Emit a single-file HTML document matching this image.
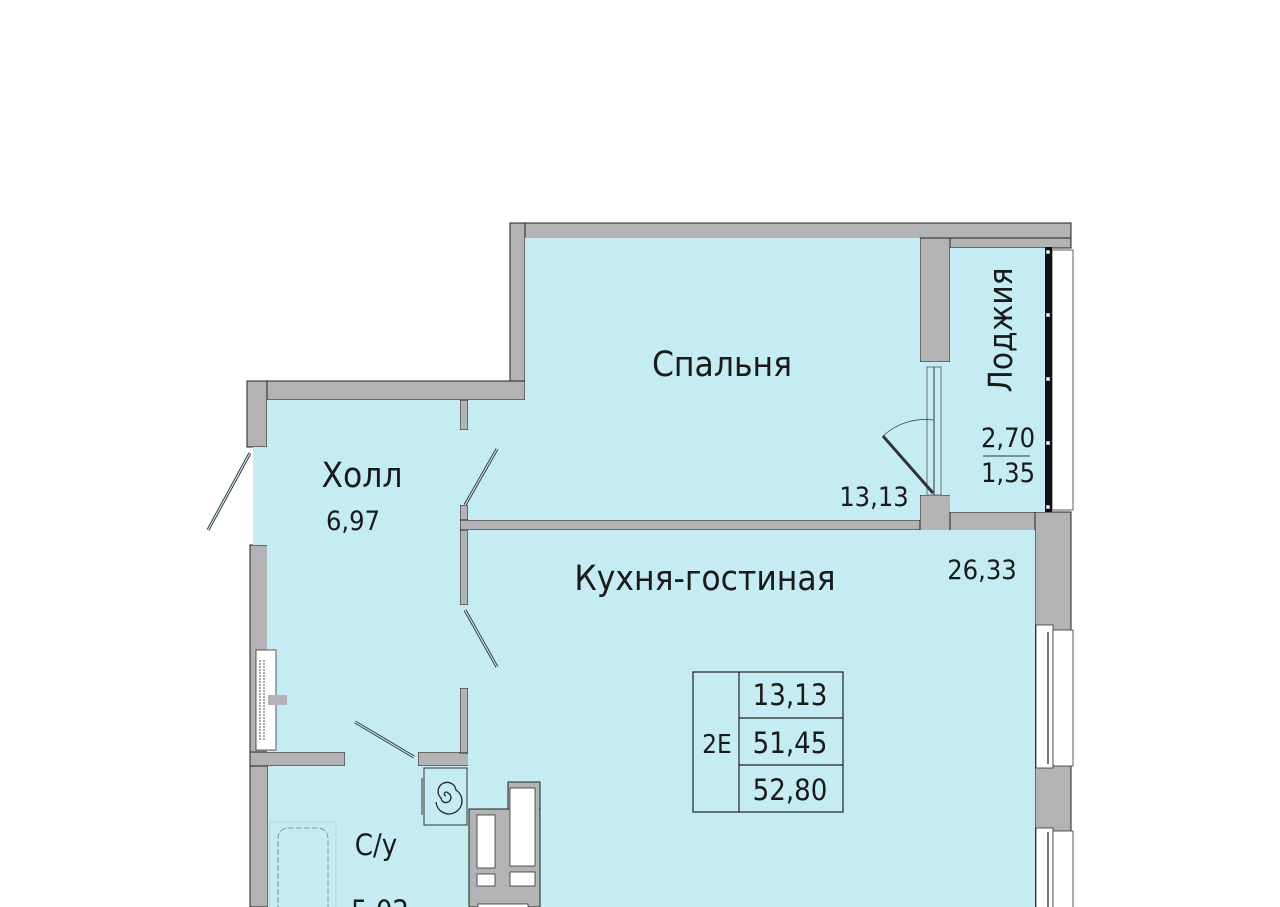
<!DOCTYPE html>
<html><head><meta charset="utf-8"><style>
html,body{margin:0;padding:0;background:#fff;width:1280px;height:907px;overflow:hidden}
svg{display:block}
text{font-family:"DejaVu Sans Condensed","Liberation Sans Narrow","Liberation Sans",sans-serif;fill:#1a1a1a}
</style></head><body>
<svg width="1280" height="907" viewBox="0 0 1280 907" xmlns="http://www.w3.org/2000/svg">
<rect width="1280" height="907" fill="#fff"/>
<g fill="#b3b2b4" stroke="#222" stroke-width="1">
<rect x="510" y="223" width="561" height="20"/>
<rect x="510" y="223" width="15" height="177"/>
<rect x="247" y="381" width="278" height="19"/>
<rect x="247" y="381" width="20" height="66"/>
<rect x="250" y="545" width="18" height="362"/>
<rect x="268" y="640" width="19" height="125"/>
<rect x="250" y="752" width="95" height="14"/>
<rect x="418" y="752" width="95" height="14"/>
<rect x="503" y="752" width="12" height="35"/>
<rect x="460" y="400" width="8" height="30"/>
<rect x="460" y="505" width="8" height="100"/>
<rect x="460" y="688" width="8" height="65"/>
<rect x="460" y="520" width="575" height="10"/>
<rect x="920" y="238" width="30" height="124"/>
<rect x="920" y="495" width="115" height="46"/>
<rect x="950" y="238" width="121" height="10"/>
<rect x="950" y="512" width="121" height="30"/>
<rect x="1035" y="512" width="36" height="395"/>
</g>
<g fill="#c4ecf2">
<rect x="525" y="238" width="395" height="282"/>
<rect x="267" y="400" width="193" height="352"/>
<rect x="253" y="447" width="20" height="98"/>
<rect x="287" y="640" width="173" height="112"/>
<rect x="345" y="752" width="73" height="14"/>
<rect x="468" y="530" width="567" height="377"/>
<rect x="468" y="400" width="57" height="120"/>
<rect x="460" y="430" width="8" height="75"/>
<rect x="460" y="605" width="8" height="83"/>
<rect x="268" y="766" width="201" height="141"/>
<rect x="515" y="766" width="30" height="16"/>
<rect x="950" y="248" width="95" height="264"/>
<rect x="920" y="362" width="30" height="133"/>
</g>
<g fill="#b3b2b4" stroke="#222" stroke-width="1">
<rect x="508" y="782" width="32" height="125"/>
<rect x="469" y="809" width="71" height="98"/>
</g>
<rect x="509" y="808" width="30" height="3" fill="#b3b2b4"/>
<g fill="#fff" stroke="#333" stroke-width="0.8">
<rect x="477" y="815" width="18" height="53"/><rect x="510" y="788" width="25" height="78"/>
<rect x="477" y="874" width="18" height="12"/><rect x="510" y="872" width="25" height="14"/>
<rect x="478" y="904" width="50" height="5"/>
<rect x="1036" y="625" width="17" height="143"/><rect x="1053" y="630" width="20" height="136"/>
<rect x="1036" y="828" width="17" height="80"/><rect x="1053" y="831" width="20" height="80"/>
<rect x="1052" y="250" width="21" height="260"/>
<rect x="256" y="650" width="20" height="100"/>
</g>
<rect x="268" y="695" width="19" height="10" fill="#b3b2b4"/>
<rect x="1045" y="247" width="7" height="265" fill="#111"/>
<g fill="#fff" stroke="#111" stroke-width="0.6"><rect x="1046" y="250" width="4" height="4"/><rect x="1046" y="313" width="4" height="4"/><rect x="1046" y="377" width="4" height="4"/><rect x="1046" y="441" width="4" height="4"/><rect x="1046" y="505" width="4" height="4"/></g>
<g stroke="#777" stroke-width="2"><line x1="1048" y1="632" x2="1048" y2="764"/><line x1="1048" y1="832" x2="1048" y2="907"/></g>
<g stroke="#555" stroke-width="1" stroke-dasharray="2 1"><line x1="260" y1="660" x2="260" y2="740"/><line x1="264" y1="660" x2="264" y2="740"/></g>
<rect x="927" y="367" width="14" height="128" fill="#c4ecf2" stroke="#555" stroke-width="0.8"/>
<line x1="934" y1="367" x2="934" y2="495" stroke="#333" stroke-width="1"/>
<path d="M883 436 L933 493" stroke="#333" stroke-width="3" fill="none"/>
<path d="M883 436 A62 62 0 0 1 933 420" stroke="#333" stroke-width="0.7" fill="none"/>
<g stroke="#333" stroke-width="3" fill="none">
<line x1="250" y1="453" x2="208" y2="530"/>
<line x1="465" y1="505" x2="497" y2="449"/>
<line x1="465" y1="610" x2="497" y2="667"/>
<line x1="414" y1="757" x2="355" y2="722"/>
</g>
<g stroke="#c4ecf2" stroke-width="1.2" fill="none">
<line x1="250" y1="453" x2="208" y2="530"/>
<line x1="465" y1="505" x2="497" y2="449"/>
<line x1="465" y1="610" x2="497" y2="667"/>
<line x1="414" y1="757" x2="355" y2="722"/>
</g>
<rect x="424" y="768" width="43" height="57" fill="#c4ecf2" stroke="#333" stroke-width="1"/>
<line x1="422" y1="778" x2="422" y2="815" stroke="#333" stroke-width="1"/>
<path d="M446 796 a2 2 0 1 1 2 -3 a5 5 0 1 1 -7 5 a9 9 0 1 1 15 -8 a13 13 0 1 1 -20 12" stroke="#222" stroke-width="1.3" fill="none"/>
<rect x="270" y="822" width="66" height="90" fill="none" stroke="#aacdd3" stroke-width="0.8"/>
<rect x="278" y="828" width="50" height="95" rx="10" fill="none" stroke="#6a8a90" stroke-width="0.8" stroke-dasharray="6 2"/>
<text x="722" y="376" font-size="35" text-anchor="middle">Спальня</text>
<text x="362" y="487" font-size="35" text-anchor="middle">Холл</text>
<text x="353" y="530" font-size="27" text-anchor="middle">6,97</text>
<text x="874" y="506" font-size="27" text-anchor="middle">13,13</text>
<text x="705" y="590" font-size="35" text-anchor="middle">Кухня-гостиная</text>
<text x="982" y="579" font-size="27" text-anchor="middle">26,33</text>
<text transform="translate(1012,330) rotate(-90)" font-size="33" text-anchor="middle">Лоджия</text>
<text x="1008" y="447" font-size="27" text-anchor="middle">2,70</text>
<line x1="983" y1="456" x2="1030" y2="456" stroke="#333" stroke-width="1"/>
<text x="1008" y="482" font-size="27" text-anchor="middle">1,35</text>
<text x="376" y="855" font-size="29" text-anchor="middle">С/у</text>
<text x="380" y="921" font-size="29" text-anchor="middle">5,02</text>
<g fill="none" stroke="#222" stroke-width="1.2">
<rect x="693" y="672" width="150" height="140"/><line x1="739" y1="672" x2="739" y2="812"/>
<line x1="739" y1="718" x2="843" y2="718"/><line x1="739" y1="765" x2="843" y2="765"/>
</g>
<text x="717" y="753" font-size="26" text-anchor="middle">2E</text>
<text x="790" y="705" font-size="29" text-anchor="middle">13,13</text>
<text x="790" y="753" font-size="29" text-anchor="middle">51,45</text>
<text x="790" y="800" font-size="29" text-anchor="middle">52,80</text>
</svg>
</body></html>
